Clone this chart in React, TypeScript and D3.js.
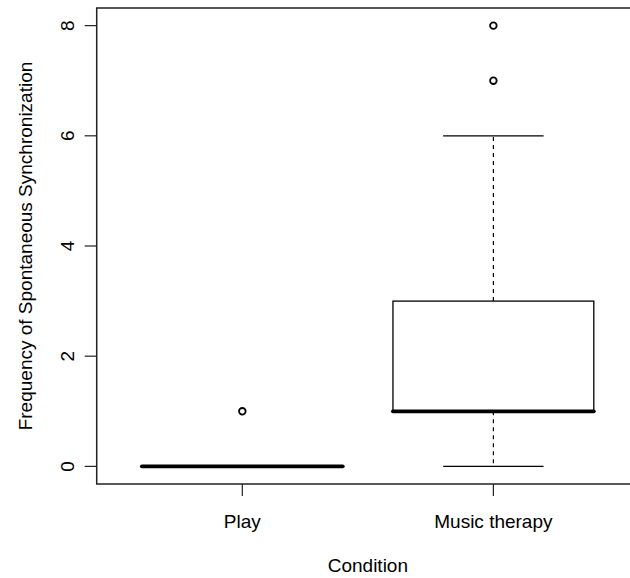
import React from "react";
import * as d3 from "d3";

// Box statistics per condition (R boxplot style)
const conditions = ["Play", "Music therapy"];
const whiskerLow = [0, 0];
const q1 = [0, 1];
const medians = [0, 1];
const q3 = [0, 3];
const whiskerHigh = [0, 6];
const outliers = [[1], [7, 8]];
const yTicks = [0, 2, 4, 6, 8];

const W = 630;
const H = 578;
const plot = { left: 96.7, top: 8, bottom: 484, right: 639 };
const font = "'Liberation Sans', Arial, Helvetica, sans-serif";
const fs = 19;

export default function App() {
  const x = d3.scaleLinear().domain([0.42, 2.58]).range([plot.left, plot.right]);
  const y = d3.scaleLinear().domain([-0.32, 8.32]).range([plot.bottom, plot.top]);
  const boxHalf = 0.4;
  const stapleHalf = 0.2;
  const ink = "#000";

  return (
    <svg width={W} height={H} style={{ position: "absolute", left: 0, top: 0, background: "#fff" }}>
      {/* boxes */}
      {conditions.map((c, i) => {
        const cx = x(i + 1);
        const l = x(i + 1 - boxHalf);
        const r = x(i + 1 + boxHalf);
        const sl = x(i + 1 - stapleHalf);
        const sr = x(i + 1 + stapleHalf);
        return (
          <g key={c}>
            {/* whiskers */}
            <line x1={cx} x2={cx} y1={y(q3[i])} y2={y(whiskerHigh[i])} stroke={ink} strokeWidth={1.2} strokeDasharray="4,4" />
            <line x1={cx} x2={cx} y1={y(q1[i])} y2={y(whiskerLow[i])} stroke={ink} strokeWidth={1.2} strokeDasharray="4,4" />
            <line x1={sl} x2={sr} y1={y(whiskerHigh[i])} y2={y(whiskerHigh[i])} stroke={ink} strokeWidth={1.3} />
            <line x1={sl} x2={sr} y1={y(whiskerLow[i])} y2={y(whiskerLow[i])} stroke={ink} strokeWidth={1.3} />
            <rect x={l} y={y(q3[i])} width={r - l} height={y(q1[i]) - y(q3[i])} fill="none" stroke={ink} strokeWidth={1.3} />
            <line x1={l} x2={r} y1={y(medians[i])} y2={y(medians[i])} stroke={ink} strokeWidth={3.8} strokeLinecap="round" />
            {outliers[i].map((v, j) => (
              <circle key={j} cx={cx} cy={y(v)} r={3.3} fill="none" stroke={ink} strokeWidth={1.8} />
            ))}
          </g>
        );
      })}

      {/* frame */}
      <rect x={plot.left} y={plot.top} width={plot.right - plot.left} height={plot.bottom - plot.top} fill="none" stroke="#222" strokeWidth={1.5} />

      {/* y axis */}
      {yTicks.map((t) => (
        <g key={t}>
          <line x1={plot.left - 12} x2={plot.left} y1={y(t)} y2={y(t)} stroke="#222" strokeWidth={1.2} />
          <text
            transform={`translate(${74},${y(t)}) rotate(-90)`}
            textAnchor="middle"
            fontFamily={font}
            fontSize={fs}
            fill="#000"
          >
            {t}
          </text>
        </g>
      ))}

      {/* x axis ticks */}
      {conditions.map((c, i) => (
        <g key={c}>
          <line x1={x(i + 1)} x2={x(i + 1)} y1={plot.bottom} y2={plot.bottom + 12} stroke="#222" strokeWidth={1.2} />
          <text x={x(i + 1)} y={528} textAnchor="middle" fontFamily={font} fontSize={fs} fill="#000">
            {c}
          </text>
        </g>
      ))}

      {/* axis titles */}
      <text x={(plot.left + plot.right) / 2} y={572} textAnchor="middle" fontFamily={font} fontSize={fs} fill="#000">
        Condition
      </text>
      <text
        transform={`translate(${32},${(plot.top + plot.bottom) / 2}) rotate(-90)`}
        textAnchor="middle"
        fontFamily={font}
        fontSize={fs}
        fill="#000"
      >
        Frequency of Spontaneous Synchronization
      </text>
    </svg>
  );
}
